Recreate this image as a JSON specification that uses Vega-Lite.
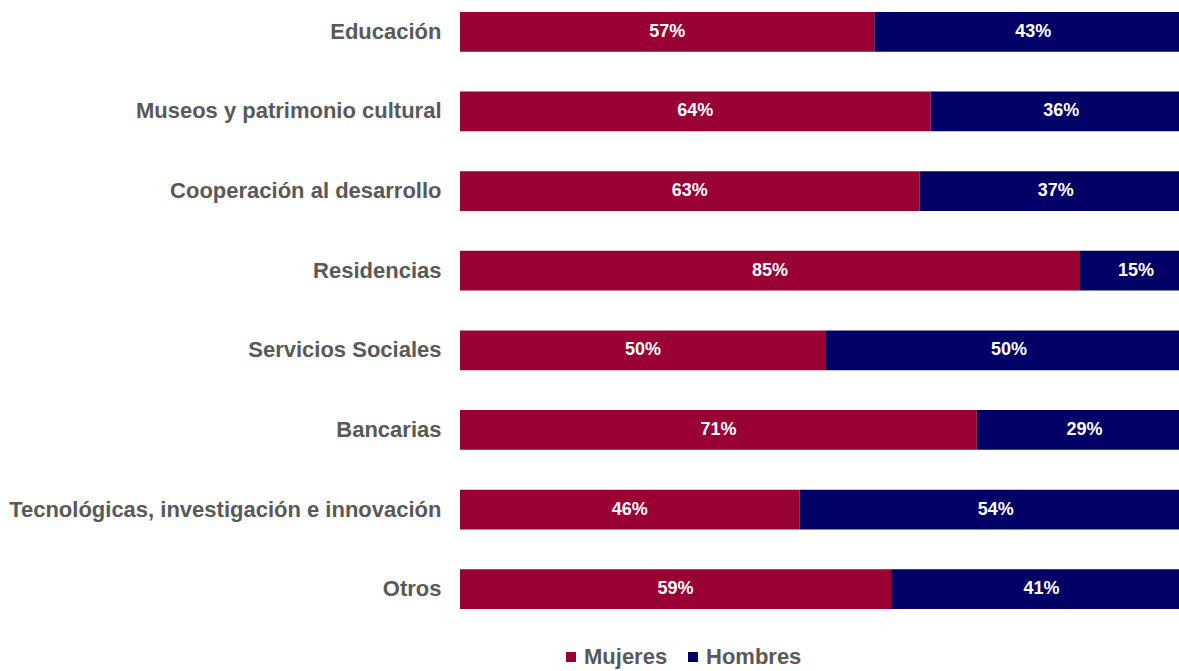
{
  "$schema": "https://vega.github.io/schema/vega-lite/v6.json",
  "autosize": "none",
  "width": 732,
  "height": 621,
  "padding": {"left": 460, "top": 0, "right": 0, "bottom": 50},
  "background": "white",
  "config": {"view": {"stroke": null}, "font": "Liberation Sans"},
  "data": {"values": [
    {"sector": "Educación", "genero": "Mujeres", "valor": 56.6},
    {"sector": "Educación", "genero": "Hombres", "valor": 43.4},
    {"sector": "Museos y patrimonio cultural", "genero": "Mujeres", "valor": 64.3},
    {"sector": "Museos y patrimonio cultural", "genero": "Hombres", "valor": 35.7},
    {"sector": "Cooperación al desarrollo", "genero": "Mujeres", "valor": 62.8},
    {"sector": "Cooperación al desarrollo", "genero": "Hombres", "valor": 37.2},
    {"sector": "Residencias", "genero": "Mujeres", "valor": 84.7},
    {"sector": "Residencias", "genero": "Hombres", "valor": 15.3},
    {"sector": "Servicios Sociales", "genero": "Mujeres", "valor": 50.0},
    {"sector": "Servicios Sociales", "genero": "Hombres", "valor": 50.0},
    {"sector": "Bancarias", "genero": "Mujeres", "valor": 70.6},
    {"sector": "Bancarias", "genero": "Hombres", "valor": 29.4},
    {"sector": "Tecnológicas, investigación e innovación", "genero": "Mujeres", "valor": 46.4},
    {"sector": "Tecnológicas, investigación e innovación", "genero": "Hombres", "valor": 53.6},
    {"sector": "Otros", "genero": "Mujeres", "valor": 58.9},
    {"sector": "Otros", "genero": "Hombres", "valor": 41.1}
  ]},
  "transform": [
    {"stack": "valor", "groupby": ["sector"], "sort": [{"field": "genero", "order": "descending"}], "offset": "normalize", "as": ["x0", "x1"]},
    {"calculate": "(datum.x0 + datum.x1) / 2", "as": "xm"},
    {"calculate": "format(datum.valor / 100, '.0%')", "as": "etiqueta"}
  ],
  "encoding": {
    "y": {
      "field": "sector", "type": "nominal", "sort": null,
      "scale": {"paddingInner": 0.5, "paddingOuter": 0.15},
      "axis": {"title": null, "ticks": false, "domain": false, "labelFont": "Liberation Sans", "labelFontWeight": "bold", "labelFontSize": 22, "labelColor": "#595959", "labelPadding": 19, "labelLimit": 460}
    }
  },
  "layer": [
    {
      "mark": {"type": "bar"},
      "encoding": {
        "x": {"field": "x0", "type": "quantitative", "scale": {"domain": [0, 1], "nice": false}, "axis": null},
        "x2": {"field": "x1"},
        "color": {
          "field": "genero", "type": "nominal",
          "scale": {"domain": ["Mujeres", "Hombres"], "range": ["#990033", "#000066"]},
          "legend": {"title": null, "orient": "none", "direction": "horizontal", "legendX": 100, "legendY": 646, "symbolType": "square", "symbolSize": 100, "symbolStrokeWidth": 0, "labelFont": "Liberation Sans", "labelFontWeight": "bold", "labelFontSize": 22, "labelColor": "#595959", "columnPadding": 14, "labelOffset": 2}
        }
      }
    },
    {
      "mark": {"type": "text", "color": "white", "font": "Liberation Sans", "fontWeight": "bold", "fontSize": 18, "align": "center", "baseline": "middle"},
      "encoding": {
        "x": {"field": "xm", "type": "quantitative"},
        "text": {"field": "etiqueta", "type": "nominal"},
        "detail": {"field": "genero"}
      }
    }
  ]
}
